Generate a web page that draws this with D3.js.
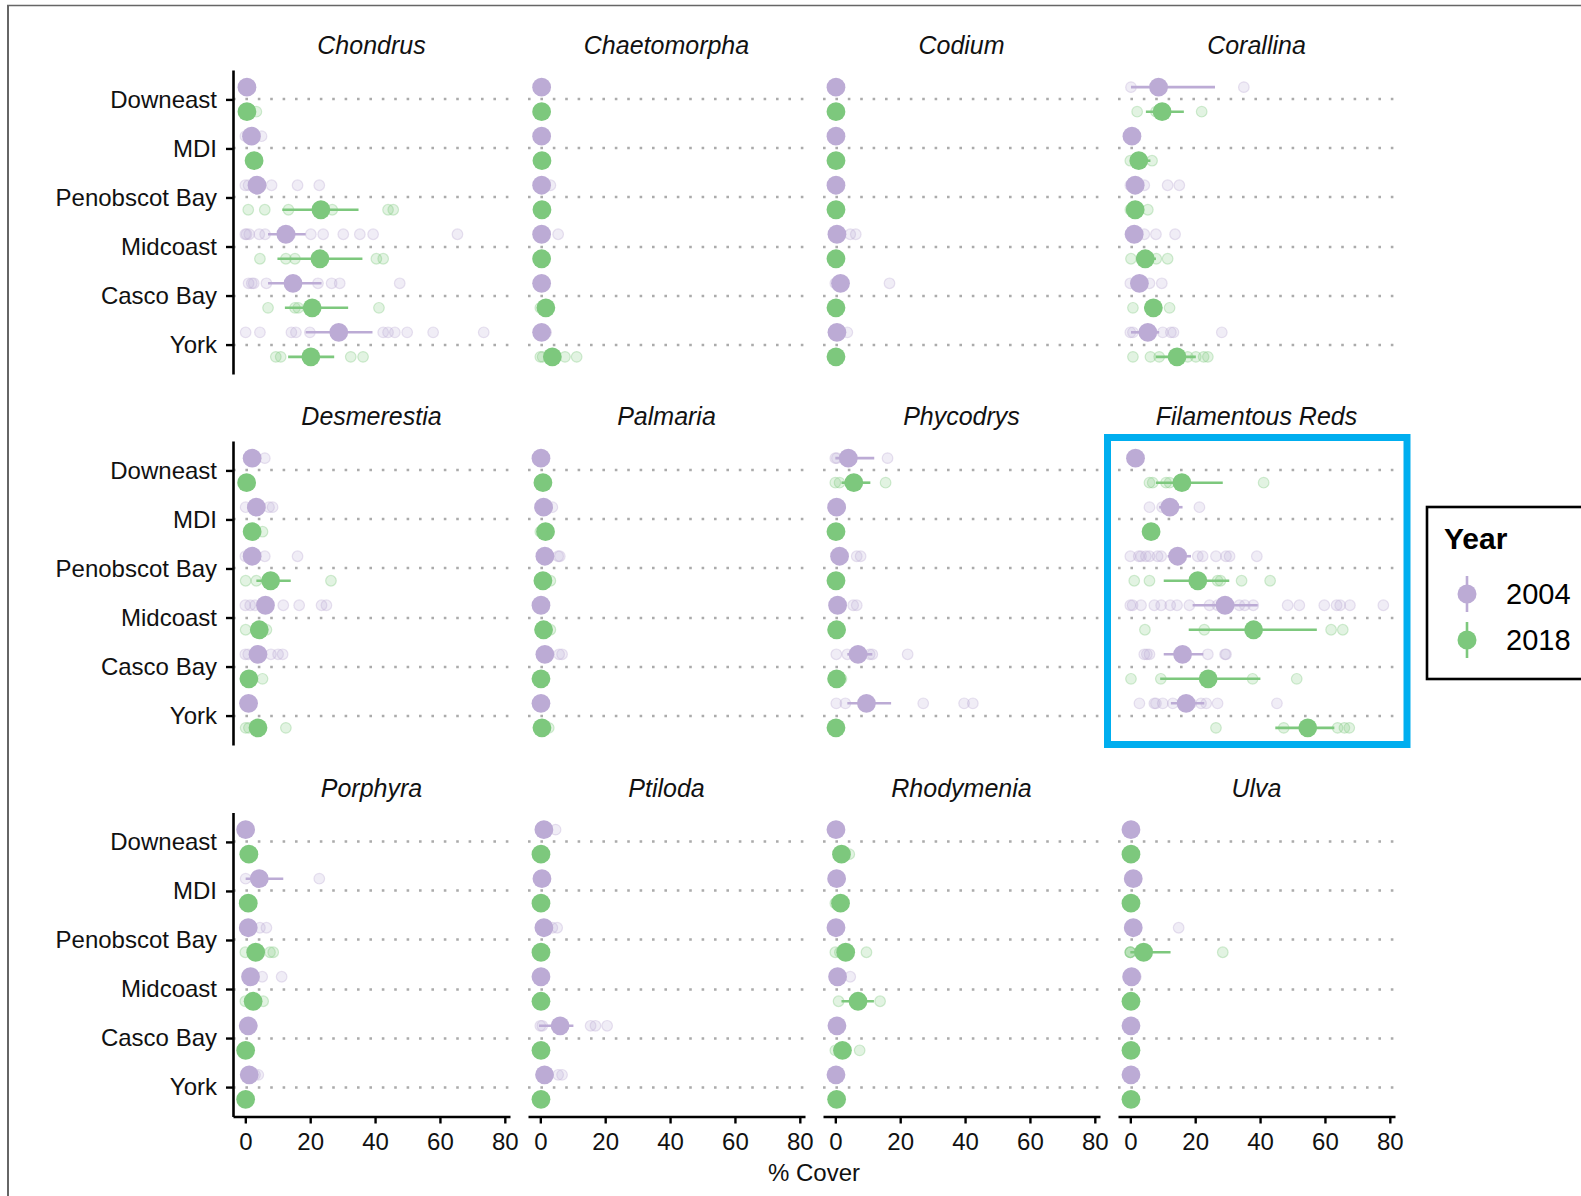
<!DOCTYPE html>
<html>
<head>
<meta charset="utf-8">
<script src="https://cdn.jsdelivr.net/npm/d3@7"></script>
<style>
  body { margin: 0; background: #fff; }
  svg { display: block; }
  text { font-family: "Liberation Sans", Arial, Helvetica, sans-serif; }
</style>
</head>
<body>
<script>
// facets, left to right then top to bottom
const species = ['Chondrus', 'Chaetomorpha', 'Codium', 'Corallina',
  'Desmerestia', 'Palmaria', 'Phycodrys', 'Filamentous Reds',
  'Porphyra', 'Ptiloda', 'Rhodymenia', 'Ulva']
const regions = ['Downeast', 'MDI', 'Penobscot Bay', 'Midcoast', 'Casco Bay', 'York']
const years = ['2004', '2018']
const xTicks = [0, 20, 40, 60, 80]

// mean % cover, one row per species, one value per region
const means2004 = [
  [0.5, 1.9, 3.6, 12.5, 14.7, 28.8],
  [0.4, 0.4, 0.4, 0.4, 0.4, 0.4],
  [0.2, 0.2, 0.2, 0.5, 1.6, 0.5],
  [8.7, 0.5, 1.5, 1.2, 2.8, 5.4],
  [2.1, 3.4, 2.1, 6.2, 3.9, 1.0],
  [0.2, 1.0, 1.4, 0.2, 1.4, 0.2],
  [4.0, 0.4, 1.3, 0.7, 7.0, 9.6],
  [1.6, 12.2, 14.6, 29.2, 16.1, 17.2],
  [0.1, 4.3, 0.9, 1.6, 0.9, 1.2],
  [1.1, 0.5, 1.1, 0.2, 6.1, 1.3],
  [0.2, 0.4, 0.2, 0.7, 0.5, 0.2],
  [0.2, 0.9, 0.9, 0.4, 0.2, 0.2]
]
const means2018 = [
  [0.5, 2.7, 23.3, 23.0, 20.6, 20.2],
  [0.4, 0.5, 0.5, 0.4, 1.7, 3.7],
  [0.2, 0.2, 0.2, 0.2, 0.2, 0.2],
  [9.8, 2.6, 1.5, 4.6, 7.1, 14.4],
  [0.4, 2.1, 7.8, 4.3, 1.1, 3.9],
  [0.8, 1.6, 0.8, 1.0, 0.2, 0.5],
  [5.7, 0.2, 0.2, 0.4, 0.4, 0.2],
  [15.9, 6.4, 20.8, 38.0, 24.0, 54.7],
  [1.1, 0.9, 3.2, 2.4, 0.1, 0.1],
  [0.2, 0.2, 0.2, 0.2, 0.2, 0.2],
  [1.9, 1.6, 3.2, 7.0, 2.2, 0.4],
  [0.2, 0.2, 4.1, 0.2, 0.2, 0.2]
]

// error bars [low, high]; null where the bar hides under the point
const err2004 = [
  [null, null, null, [7.0, 18.6], [7.0, 23.5], [18.6, 39.2]],
  [null, null, null, null, null, null],
  [null, null, null, null, null, null],
  [[0.2, 26.1], null, null, null, null, [0.2, 8.9]],
  [null, null, null, null, null, null],
  [null, null, null, null, null, null],
  [[0, 12.0], null, null, null, [3.7, 11.4], [3.7, 17.2]],
  [null, [8.9, 16.1], [11.5, 18.7], [19.2, 39.3], [10.3, 22.5], [12.5, 22.8]],
  [null, [0.1, 11.7], null, null, null, null],
  [null, null, null, null, [-0.4, 10.2], null],
  [null, null, null, null, null, null],
  [null, null, null, null, null, null]
]
const err2018 = [
  [null, null, [11.4, 34.9], [9.9, 36.1], [12.2, 31.7], [13.2, 27.4]],
  [null, null, null, null, null, null],
  [null, null, null, null, null, null],
  [[4.8, 16.5], [1.2, 6.2], null, [1.8, 7.9], [4.3, 9.7], [7.9, 20.2]],
  [null, null, [3.4, 14.0], null, null, null],
  [null, null, null, null, null, null],
  [[1.9, 10.8], null, null, null, null, null],
  [[7.9, 28.5], null, [10.3, 30.5], [18.0, 57.5], [9.2, 40.1], [44.7, 62.9]],
  [null, null, null, null, null, null],
  [null, null, null, null, null, null],
  [null, null, null, [1.9, 11.9], null, null],
  [null, null, [0, 12.4], null, null, null]
]

// individual site values (faint points)
const raw2004 = [
  [[0, 0.8], [0, 5.0], [0, 1.0, 8.1, 16.1, 22.8], [0, 0.4, 1.2, 4.3, 6.1, 13.8, 20.2, 24.0, 30.2, 35.3, 39.4, 65.4],
    [1.0, 2.0, 2.6, 6.5, 22.4, 26.6, 29.1, 47.6], [0.1, 4.5, 14.2, 15.6, 19.9, 42.5, 44.0, 46.1, 49.9, 57.9, 73.5]],
  [[0], [0], [0, 3.1], [0, 5.5], [0], [0, 1.8]],
  [[0], [0], [0], [0, 4.6, 6.3], [0, 16.7], [0, 3.7]],
  [[0.2, 35.0], [0], [0, 4.3, 11.5, 15.1], [0, 4.3, 7.9, 13.8], [0, 5.9, 9.7], [0, 0.8, 10.0, 12.5, 13.3, 28.2]],
  [[6.0], [0.1, 7.3, 8.4], [0, 6.0, 16.1], [0, 1.5, 3.0, 11.7, 16.6, 23.5, 25.0], [0, 0.9, 7.9, 10.1, 11.5], [0]],
  [[0], [3.7], [5.5, 6.0], [0], [5.8, 6.7], [0]],
  [[0, 0.5, 16.1], [0], [6.6, 7.8], [5.5, 6.6], [0.3, 3.7, 10.6, 11.4, 22.3], [0.3, 3.1, 27.1, 39.7, 42.4]],
  [[2.4], [5.9, 9.8, 21.3],
    [0, 2.6, 3.3, 4.8, 5.9, 8.4, 9.5, 20.8, 22.3, 26.4, 29.5, 30.6, 39.0],
    [0, 0.7, 3.3, 7.4, 9.5, 12.3, 14.4, 18.2, 24.4, 26.9, 33.6, 35.3, 37.9, 48.5, 52.1, 59.8, 63.6, 64.7, 67.7, 78.0],
    [4.3, 5.1, 5.9, 23.9, 29.2, 29.5],
    [2.8, 7.4, 7.9, 10.0, 13.1, 18.7, 21.8, 23.4, 26.9, 45.2]],
  [[0], [0.1, 22.8], [4.5, 6.5], [5.2, 11.2], [2.0], [3.0, 4.0]],
  [[4.7], [0], [3.7, 5.2], [0], [0, 0.6, 15.5, 17.0, 20.6], [5.5, 6.7]],
  [[0], [0], [0], [4.6], [0], [0]],
  [[0], [1.7], [14.9], [1.7], [0], [0]]
]
const raw2018 = [
  [[3.4], [2.7], [0.9, 6.0, 13.3, 26.8, 44.0, 45.6], [4.5, 12.5, 15.3, 40.4, 42.5], [7.0, 15.3, 16.3, 41.2], [9.4, 10.9, 32.5, 36.3]],
  [[0], [0], [0], [0], [0, 2.4], [0, 0.7, 7.6, 11.2]],
  [[0], [0], [0], [0], [0], [0]],
  [[2.1, 7.9, 22.0], [0, 6.7], [0, 5.4], [0.2, 8.0, 11.5], [0.8, 12.1], [0.8, 6.2, 8.9, 17.7, 20.2, 22.6, 23.9]],
  [[0], [5.3], [0.1, 3.4, 26.4], [0.1, 6.5], [5.3], [0.1, 1.1, 12.5]],
  [[0], [0], [3.1], [3.1], [0], [2.6]],
  [[0, 1.3, 15.5], [0], [0], [0], [1.9], [0]],
  [[5.9, 6.9, 11.0, 12.1, 41.1], [6.4], [1.2, 5.9, 26.9, 27.8, 34.3, 43.1], [4.5, 22.8, 61.9, 65.5],
    [0.2, 9.4, 37.7, 51.3], [26.4, 47.3, 63.9, 66.0, 67.5]],
  [[0], [0], [0, 7.6, 8.6], [0, 5.5], [0], [0]],
  [[0], [0], [0], [0], [0], [0]],
  [[4.3], [0], [0, 1.4, 9.6], [1.0, 13.8], [0, 7.5], [0]],
  [[0], [0], [0, 0, 0, 28.5], [0], [0], [0]]
]

const highlighted = 'Filamentous Reds'

let width = 1581
let height = 1196
let pw = 277, ph = 304
let colX = [233, 528, 823, 1118]
let rowY = [70, 441, 812.5]
let colors = { '2004': '#bcabd5', '2018': '#7dc87d' }

let seriesData = {
  '2004': { means: means2004, err: err2004, raw: raw2004 },
  '2018': { means: means2018, err: err2018, raw: raw2018 }
}

let svg = d3.select('body')
  .append('svg')
  .attr('width', width)
  .attr('height', height)

let x = d3.scaleLinear().domain([-3.8, 81.6]).range([0, pw])
let y = d3.scalePoint().domain(regions).range([0, ph]).padding(0.6)
let dodge = d3.scalePoint().domain(years).range([-y.step() / 4, y.step() / 4])

species.forEach((sp, i) => {
  let col = i % 4
  let row = Math.floor(i / 4)
  let g = svg.append('g')
    .attr('transform', 'translate(' + colX[col] + ',' + rowY[row] + ')')

  // dotted horizontal guides
  g.selectAll('line.grid')
    .data(regions)
    .enter()
    .append('line')
    .attr('x1', 0)
    .attr('x2', pw)
    .attr('y1', d => Math.round(y(d)))
    .attr('y2', d => Math.round(y(d)))
    .attr('stroke', '#ababab')
    .attr('stroke-width', 2.6)
    .attr('stroke-dasharray', '2.6 9.8')

  years.forEach(yr => {
    let s = seriesData[yr]
    let c = colors[yr]
    let pts = []
    regions.forEach((r, j) => {
      s.raw[i][j].forEach(v => pts.push({ r, v }))
    })
    g.selectAll(null)
      .data(pts)
      .enter()
      .append('circle')
      .attr('cx', d => x(d.v))
      .attr('cy', d => y(d.r) + dodge(yr))
      .attr('r', 5.3)
      .attr('fill', c)
      .attr('fill-opacity', 0.22)
      .attr('stroke', c)
      .attr('stroke-opacity', 0.35)
      .attr('stroke-width', 1.2)
  })

  years.forEach(yr => {
    let s = seriesData[yr]
    let c = colors[yr]
    let rows = regions.map((r, j) => ({ r, m: s.means[i][j], e: s.err[i][j] }))

    g.selectAll(null)
      .data(rows.filter(d => d.e))
      .enter()
      .append('line')
      .attr('x1', d => x(d.e[0]))
      .attr('x2', d => x(d.e[1]))
      .attr('y1', d => y(d.r) + dodge(yr))
      .attr('y2', d => y(d.r) + dodge(yr))
      .attr('stroke', c)
      .attr('stroke-width', 2.6)

    g.selectAll(null)
      .data(rows)
      .enter()
      .append('circle')
      .attr('cx', d => x(d.m))
      .attr('cy', d => y(d.r) + dodge(yr))
      .attr('r', 9.4)
      .attr('fill', c)
  })

  // strip title
  g.append('text')
    .attr('x', pw / 2)
    .attr('y', -24.5)
    .attr('dy', '0.35em')
    .attr('text-anchor', 'middle')
    .attr('font-size', 25)
    .attr('font-style', 'italic')
    .attr('fill', '#111')
    .text(sp)

  if (col === 0) {
    let ax = g.append('g')
      .call(d3.axisLeft(y).tickSize(7).tickPadding(9).tickSizeOuter(0))
    styleAxis(ax)
  }
  if (row === 2) {
    let ax = g.append('g')
      .attr('transform', 'translate(0,' + ph + ')')
      .call(d3.axisBottom(x).tickValues(xTicks).tickSize(7).tickPadding(9).tickSizeOuter(0))
    styleAxis(ax)
  }

  if (sp === highlighted) {
    g.append('rect')
      .attr('x', -10.5)
      .attr('y', -3.5)
      .attr('width', 299.5)
      .attr('height', 307)
      .attr('fill', 'none')
      .attr('stroke', '#00aeef')
      .attr('stroke-width', 7)
  }
})

function styleAxis (ax) {
  ax.select('.domain').attr('stroke', '#000').attr('stroke-width', 2.6)
  ax.selectAll('.tick line').attr('stroke', '#000').attr('stroke-width', 2.4)
  ax.selectAll('.tick text')
    .attr('font-size', 24)
    .attr('fill', '#111')
    .attr('font-family', '"Liberation Sans", Arial, Helvetica, sans-serif')
}

// x axis title
svg.append('text')
  .attr('x', (colX[0] + colX[3] + pw) / 2)
  .attr('y', 1181)
  .attr('text-anchor', 'middle')
  .attr('font-size', 24)
  .attr('fill', '#111')
  .text('% Cover')

// legend
let legend = svg.append('g').attr('transform', 'translate(1427,507)')
legend.append('rect')
  .attr('width', 200)
  .attr('height', 172)
  .attr('fill', '#fff')
  .attr('stroke', '#000')
  .attr('stroke-width', 2.6)
legend.append('text')
  .attr('x', 17)
  .attr('y', 42)
  .attr('font-size', 30)
  .attr('font-weight', 'bold')
  .attr('fill', '#000')
  .text('Year')
years.forEach((yr, k) => {
  let cy = 87 + k * 46
  legend.append('line')
    .attr('x1', 40).attr('x2', 40)
    .attr('y1', cy - 18).attr('y2', cy + 18)
    .attr('stroke', colors[yr])
    .attr('stroke-width', 2.6)
  legend.append('circle')
    .attr('cx', 40).attr('cy', cy).attr('r', 9.5)
    .attr('fill', colors[yr])
  legend.append('text')
    .attr('x', 79)
    .attr('y', cy)
    .attr('dy', '0.35em')
    .attr('font-size', 29)
    .attr('fill', '#000')
    .text(yr)
})

// frame of the original capture
svg.append('line')
  .attr('x1', 7).attr('x2', width)
  .attr('y1', 5.5).attr('y2', 5.5)
  .attr('stroke', '#666').attr('stroke-width', 1.5)
svg.append('line')
  .attr('x1', 8).attr('x2', 8)
  .attr('y1', 5).attr('y2', height)
  .attr('stroke', '#666').attr('stroke-width', 2)
</script>
</body>
</html>
